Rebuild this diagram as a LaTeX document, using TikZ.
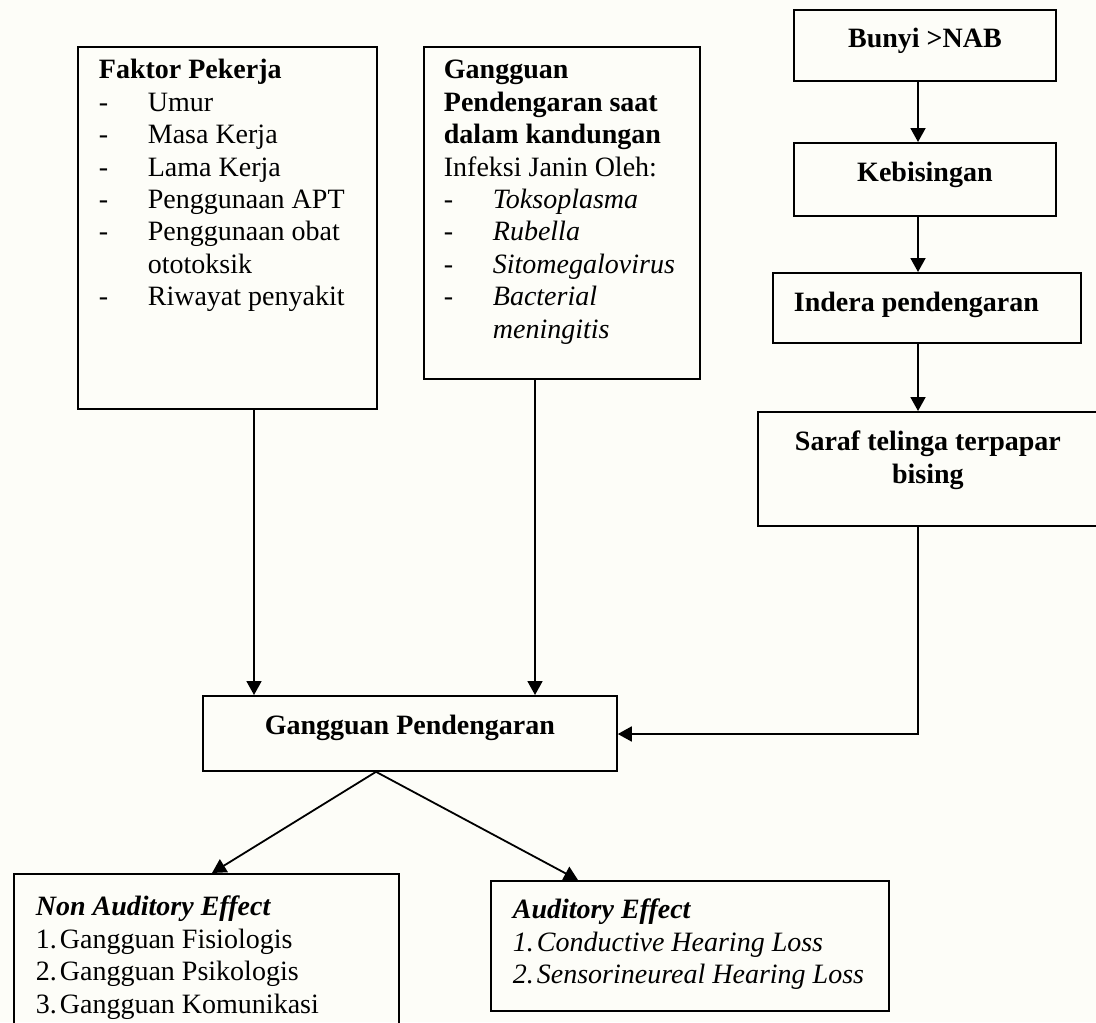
\documentclass[tikz,border=0pt]{standalone}
\usepackage{fontspec}
\setmainfont{Liberation Serif}
\usetikzlibrary{arrows.meta,positioning}
\definecolor{paper}{RGB}{253,253,248}
\tikzstyle{block} = [rectangle, draw=black, line width=0.9pt, anchor=north west, inner xsep=10.5pt, inner ysep=9.5pt]
\tikzstyle{line} = [draw, line width=0.9pt, -{Triangle[width=7.5pt,length=7pt]}]

\begin{document}
\begin{tikzpicture}[x=0.5pt, y=-0.5pt, font=\fontsize{14}{16.2}\selectfont]
\useasboundingbox (0,0) rectangle (1096,1022);
\fill[paper] (0,0) rectangle (1096,1022);
\clip (0,0) rectangle (1096,1022);

% left column
 \node (faktor) [block, inner ysep=4.7pt] at (77,46) {\parbox[c][171.6pt][t]{128.5pt}{%
 \begin{tabular}[t]{@{}p{24.5pt}@{}l@{}}
  \multicolumn{2}{@{}l@{}}{\textbf{Faktor Pekerja}}\\
  - & Umur\\
  - & Masa Kerja\\
  - & Lama Kerja\\
  - & Penggunaan APT\\
  - & Penggunaan obat\\
    & ototoksik\\
  - & Riwayat penyakit
 \end{tabular}}};

 \node (kandungan) [block, inner xsep=10pt, inner ysep=4.7pt] at (423,46) {\parbox[c][156.6pt][t]{118pt}{%
 \begin{tabular}[t]{@{}p{24.5pt}@{}l@{}}
  \multicolumn{2}{@{}l@{}}{\textbf{Gangguan}}\\
  \multicolumn{2}{@{}l@{}}{\textbf{Pendengaran saat}}\\
  \multicolumn{2}{@{}l@{}}{\textbf{dalam kandungan}}\\
  \multicolumn{2}{@{}l@{}}{Infeksi Janin Oleh:}\\
  - & \textit{Toksoplasma}\\
  - & \textit{Rubella}\\
  - & \textit{Sitomegalovirus}\\
  - & \textit{Bacterial}\\
    & \textit{meningitis}
 \end{tabular}}};

% right column
 \node (bunyi) [block, inner ysep=9pt] at (793,9) {\parbox[c][17.5pt][t]{110pt}{\centering\textbf{Bunyi >NAB}}};
 \node (bising) [block] at (793,142) {\parbox[c][17.5pt][t]{110pt}{\centering\textbf{Kebisingan}}};
 \node (indera) [block] at (772,272) {\parbox[c][16pt][t]{133pt}{\textbf{Indera pendengaran}}};
 \node (saraf) [block] at (757,411) {\parbox[c][38pt][t]{149pt}{\centering\textbf{Saraf telinga terpapar\\bising}}};

% centre
 \node (gangguan) [block] at (202,695) {\parbox[c][18.5pt][t]{186pt}{\centering\textbf{Gangguan Pendengaran}}};

% effects
 \node (nonaud) [block, inner xsep=11pt, inner ysep=9.7pt] at (13,873) {\parbox[c][64pt][t]{170.5pt}{%
 \begin{tabular}[t]{@{}p{12pt}@{}l@{}}
  \multicolumn{2}{@{}l@{}}{\textbf{\textit{Non Auditory Effect}}}\\
  1. & Gangguan Fisiologis\\
  2. & Gangguan Psikologis\\
  3. & Gangguan Komunikasi
 \end{tabular}}};

 \node (aud) [block, inner xsep=11pt, inner ysep=7.7pt] at (490,880) {\parbox[c][49.6pt][t]{177pt}{%
 \begin{tabular}[t]{@{}p{12pt}@{}l@{}}
  \multicolumn{2}{@{}l@{}}{\textbf{\textit{Auditory Effect}}}\\
  \textit{1.} & \textit{Conductive Hearing Loss}\\
  \textit{2.} & \textit{Sensorineureal Hearing Loss}
 \end{tabular}}};

% connectors
 \coordinate (col) at (918,0);
 \coordinate (in1) at (254,695);
 \coordinate (in2) at (535,695);
 \coordinate (bend) at (918,734);

 \draw[line] (bunyi.south -| col) -- (bising.north -| col);
 \draw[line] (bising.south -| col) -- (indera.north -| col);
 \draw[line] (indera.south -| col) -- (saraf.north -| col);
 \draw[line] (faktor.south -| in1) -- (in1);
 \draw[line] (kandungan.south -| in2) -- (in2);
 \draw[line] (saraf.south -| bend) -- (bend) -- (bend -| gangguan.east);
 \draw[line] ([xshift=87pt]gangguan.south west) -- ([xshift=99.5pt]nonaud.north west);
 \draw[line] ([xshift=87pt]gangguan.south west) -- ([xshift=44pt]aud.north west);
\end{tikzpicture}
\end{document}
